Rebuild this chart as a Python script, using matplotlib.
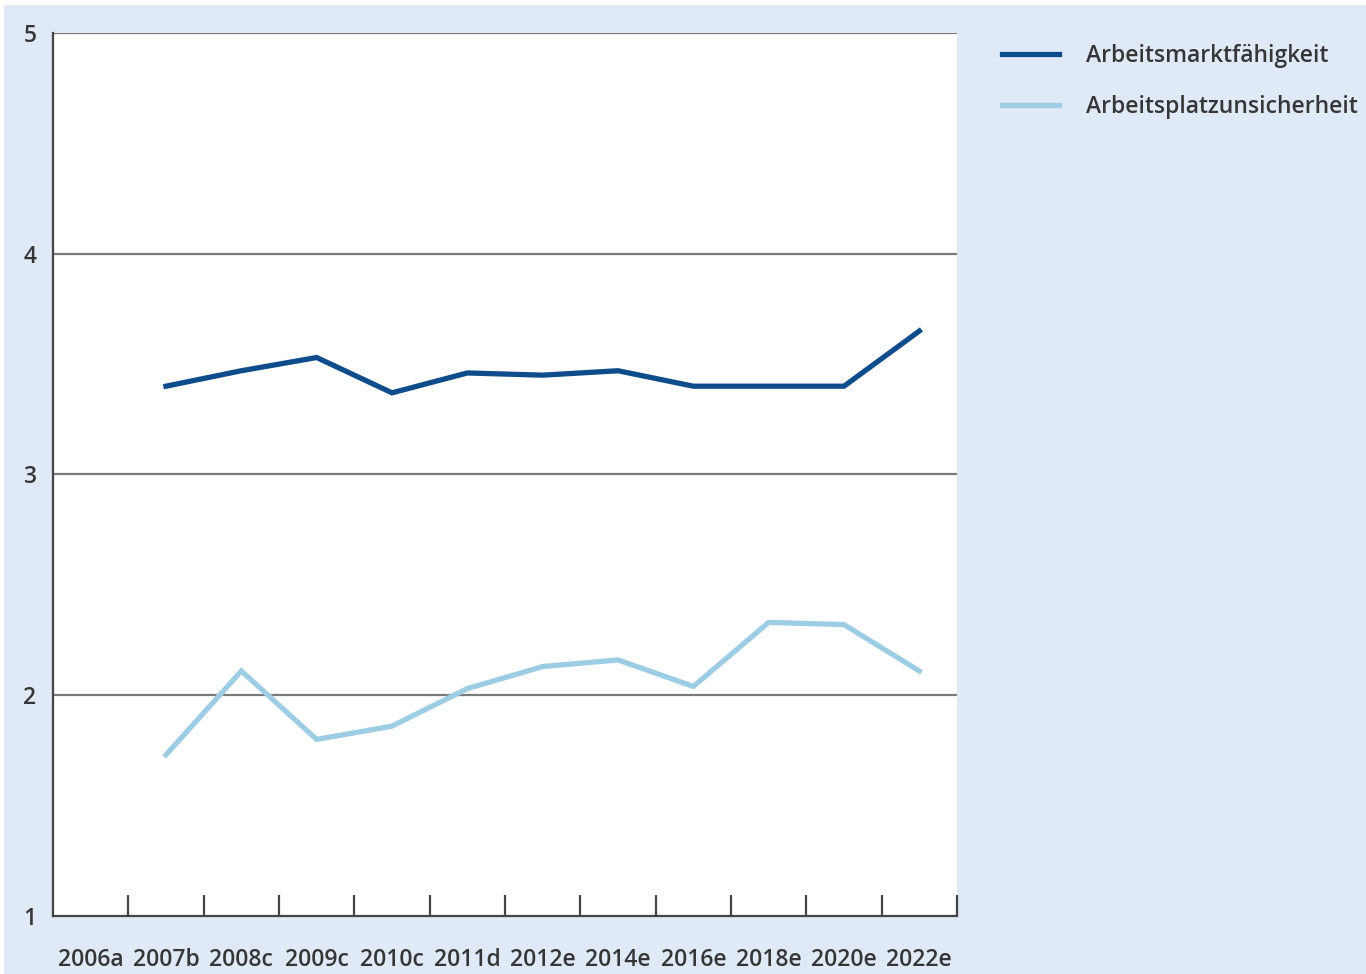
import matplotlib
matplotlib.use('Agg')
import matplotlib.pyplot as plt
from matplotlib.patches import Rectangle

plt.rcParams['font.family'] = ['Open Sans', 'DejaVu Sans']
plt.rcParams['font.weight'] = 'semibold'

# Survey waves and mean scores (scale 1-5)
waves = ['2006a', '2007b', '2008c', '2009c', '2010c', '2011d',
         '2012e', '2014e', '2016e', '2018e', '2020e', '2022e']
employability = [None, 3.40, 3.47, 3.53, 3.37, 3.46, 3.45, 3.47, 3.40, 3.40, 3.40, 3.65]
job_insecurity = [None, 1.73, 2.11, 1.80, 1.86, 2.03, 2.13, 2.16, 2.04, 2.33, 2.32, 2.11]
series_names = ['Arbeitsmarktfähigkeit', 'Arbeitsplatzunsicherheit']

DARK = '#0f4c8c'
LIGHT = '#9dcde4'
BG = '#dfeaf6'
TXT = '#363636'
FS = 16.5

W, H = 1366, 974
fig = plt.figure(figsize=(W / 100, H / 100), dpi=100, facecolor='white')
fig.patches.append(Rectangle((4 / W, 0), 1 - 4 / W, 1 - 5 / H,
                             transform=fig.transFigure, facecolor=BG,
                             edgecolor='none', zorder=-10))

ax = fig.add_axes([53 / W, 1 - 916 / H, (957 - 53) / W, (916 - 33) / H])
ax.set_facecolor('white')

xs = [i for i, v in enumerate(employability) if v is not None]
ax.plot(xs, [employability[i] for i in xs], color=DARK, lw=3.8,
        solid_joinstyle='miter', label=series_names[0], zorder=3)
xs = [i for i, v in enumerate(job_insecurity) if v is not None]
ax.plot(xs, [job_insecurity[i] for i in xs], color=LIGHT, lw=3.8,
        solid_joinstyle='miter', label=series_names[1], zorder=3)

ax.set_xlim(-0.5, len(waves) - 0.5)
ax.set_ylim(1, 5)

# horizontal rules at each whole score
for y in [2, 3, 4, 5]:
    ax.axhline(y, color='#7a7a7a', lw=1.6, zorder=1)

ax.set_yticks([1, 2, 3, 4, 5])
ax.set_yticklabels(['1', '2', '3', '4', '5'], fontsize=FS, color=TXT)
ax.tick_params(axis='y', length=0, pad=12)

# category separators as inward ticks, labels centred in each slot
ax.set_xticks([i + 0.5 for i in range(len(waves))])
ax.set_xticklabels([])
ax.tick_params(axis='x', direction='in', length=15, width=1.6, color='#444444')
ax.set_xticks(range(len(waves)), minor=True)
ax.set_xticklabels(waves, minor=True, fontsize=FS, color=TXT)
ax.tick_params(axis='x', which='minor', length=0, pad=23)

for s in ['top', 'right']:
    ax.spines[s].set_visible(False)
ax.spines['left'].set_color('#444444')
ax.spines['left'].set_linewidth(1.6)
ax.spines['bottom'].set_color('#444444')
ax.spines['bottom'].set_linewidth(1.6)

fig.legend(loc='upper left', bbox_to_anchor=(981 / W, 1 - 23 / H),
           frameon=False, fontsize=FS, handlelength=2.5, handletextpad=1.2,
           labelspacing=1.2, labelcolor=TXT)

fig.savefig('out.png', dpi=100, facecolor=fig.get_facecolor())
